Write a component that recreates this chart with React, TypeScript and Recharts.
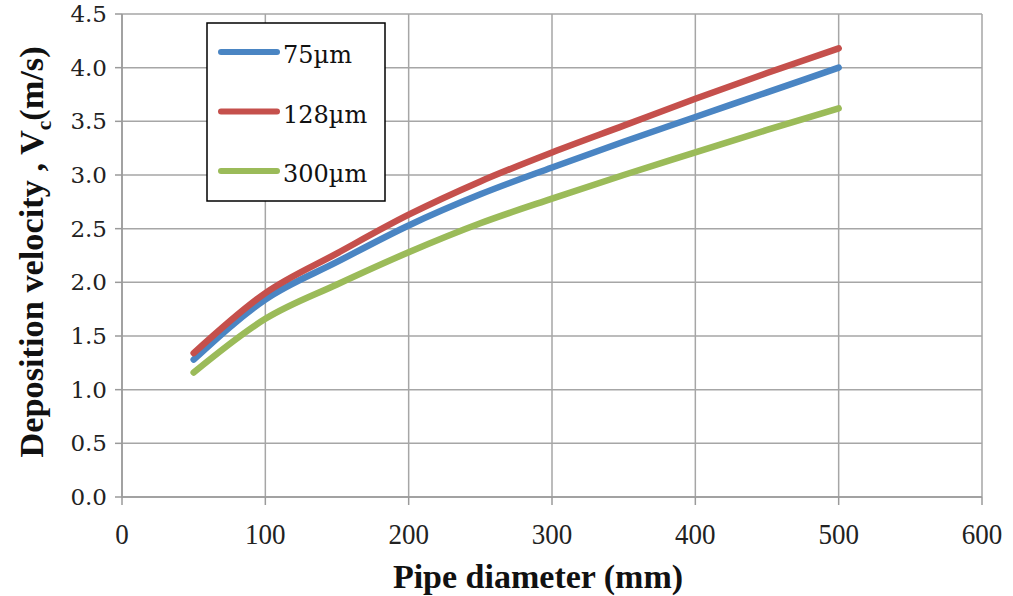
import React from "react";
import { LineChart, Line, XAxis, YAxis, CartesianGrid } from "recharts";

const diameters = [50, 100, 150, 200, 250, 300, 350, 400, 450, 500];
const v75 = [1.28, 1.84, 2.19, 2.53, 2.82, 3.07, 3.31, 3.54, 3.77, 4.0];
const v128 = [1.34, 1.9, 2.27, 2.63, 2.94, 3.21, 3.46, 3.71, 3.95, 4.18];
const v300 = [1.16, 1.66, 1.98, 2.28, 2.55, 2.78, 3.0, 3.21, 3.42, 3.62];
const seriesNames = ["75µm", "128µm", "300µm"];
const seriesColors = ["#4A85C3", "#C5504C", "#9BBB59"];
const xTicks = [0, 100, 200, 300, 400, 500, 600];
const yTicks = [0, 0.5, 1, 1.5, 2, 2.5, 3, 3.5, 4, 4.5];

const data = diameters.map((d, i) => ({ d, s0: v75[i], s1: v128[i], s2: v300[i] }));

const FONT = "'Liberation Serif', 'Times New Roman', serif";
const FONT2 = "'DejaVu Serif', serif";

const LegendBox = () => (
  <g>
    <rect x={207} y={23} width={178} height={178} fill="#fff" stroke="#000" strokeWidth={1.5} />
    {seriesNames.map((n, i) => {
      const y = 52 + i * 59.5;
      return (
        <g key={n}>
          <line x1={221} x2={277} y1={y} y2={y} stroke={seriesColors[i]} strokeWidth={6} strokeLinecap="round" />
          <text x={283} y={y + 11} fontSize={24} fontFamily={FONT2} fill="#111">{n}</text>
        </g>
      );
    })}
  </g>
);

const YTitle = () => (
  <text transform="translate(43,252) rotate(-90) scale(1.01,1)" textAnchor="middle" fontSize={34} fontWeight="bold" fontFamily={FONT} fill="#111">
    Deposition velocity , V<tspan fontSize={21} dy={8}>c</tspan><tspan dy={-8}>(m/s)</tspan>
  </text>
);

const XTitle = () => (
  <text x={538} y={588} textAnchor="middle" fontSize={34} fontWeight="bold" fontFamily={FONT} fill="#111">
    Pipe diameter (mm)
  </text>
);

const XTick = (props: any) => {
  const { x, y, payload } = props;
  return (
    <text transform={`translate(${x},${y + 37}) scale(0.9,1)`} textAnchor="middle" fontSize={30} fontFamily={FONT} fill="#222">
      {payload.value}
    </text>
  );
};

const YTick = (props: any) => {
  const { x, y, payload } = props;
  return (
    <text x={x - 6} y={y + 8} textAnchor="end" fontSize={23} fontFamily={FONT2} fill="#222">
      {Number(payload.value).toFixed(1)}
    </text>
  );
};

export default function App() {
  return (
    <div style={{ position: "absolute", left: 0, top: 0, background: "#fff" }}>
      <LineChart width={1013} height={596} data={data} margin={{ top: 14, right: 31, bottom: 0, left: 0 }}>
        <CartesianGrid stroke="#a6a6a6" strokeWidth={1.5} />
        <XAxis
          dataKey="d"
          type="number"
          domain={[0, 600]}
          ticks={xTicks}
          height={99}
          stroke="#9a9a9a"
          strokeWidth={1.5}
          tickSize={8}
          tick={<XTick />}
        />
        <YAxis
          type="number"
          domain={[0, 4.5]}
          ticks={yTicks}
          width={122}
          stroke="#9a9a9a"
          strokeWidth={1.5}
          tickSize={7}
          tick={<YTick />}
        />
        <Line type="monotone" dataKey="s0" name={seriesNames[0]} stroke={seriesColors[0]} strokeWidth={6.5} dot={false} isAnimationActive={false} strokeLinecap="round" />
        <Line type="monotone" dataKey="s1" name={seriesNames[1]} stroke={seriesColors[1]} strokeWidth={6.5} dot={false} isAnimationActive={false} strokeLinecap="round" />
        <Line type="monotone" dataKey="s2" name={seriesNames[2]} stroke={seriesColors[2]} strokeWidth={6.5} dot={false} isAnimationActive={false} strokeLinecap="round" />
        <LegendBox />
        <YTitle />
        <XTitle />
      </LineChart>
    </div>
  );
}
